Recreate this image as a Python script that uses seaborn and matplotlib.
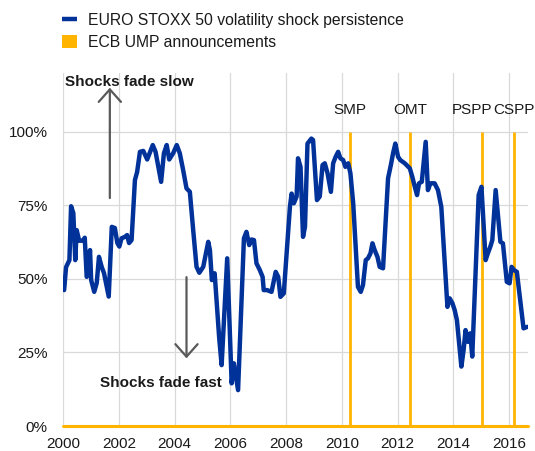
import pandas as pd
import matplotlib
matplotlib.use("Agg")
import matplotlib.pyplot as plt
import seaborn as sns
from matplotlib.lines import Line2D
from matplotlib.patches import Patch

# Shock persistence (decimal year, share)
dates = [
    2000.04, 2000.11, 2000.23, 2000.29, 2000.37, 2000.44, 2000.49, 2000.58, 2000.71, 2000.78,
    2000.85, 2000.97, 2001.01, 2001.12, 2001.21, 2001.29, 2001.39, 2001.47, 2001.64, 2001.75,
    2001.86, 2001.95, 2002.02, 2002.10, 2002.22, 2002.30, 2002.37, 2002.46, 2002.58, 2002.66,
    2002.76, 2002.88, 2003.02, 2003.22, 2003.32, 2003.52, 2003.62, 2003.72, 2003.81, 2003.95,
    2004.08, 2004.19, 2004.31, 2004.43, 2004.55, 2004.67, 2004.79, 2004.89, 2005.03, 2005.21,
    2005.27, 2005.34, 2005.44, 2005.60, 2005.69, 2005.89, 2006.05, 2006.13, 2006.28, 2006.49,
    2006.58, 2006.68, 2006.76, 2006.85, 2006.94, 2007.06, 2007.16, 2007.20, 2007.32, 2007.48,
    2007.63, 2007.72, 2007.80, 2007.92, 2008.14, 2008.20, 2008.28, 2008.38, 2008.43, 2008.52,
    2008.61, 2008.68, 2008.77, 2008.91, 2008.97, 2009.11, 2009.21, 2009.31, 2009.39, 2009.49,
    2009.61, 2009.69, 2009.78, 2009.87, 2009.95, 2010.05, 2010.13, 2010.23, 2010.31, 2010.41,
    2010.58, 2010.68, 2010.76, 2010.86, 2010.94, 2011.03, 2011.10, 2011.18, 2011.28, 2011.36,
    2011.48, 2011.66, 2011.76, 2011.84, 2011.92, 2012.02, 2012.10, 2012.26, 2012.44, 2012.53,
    2012.62, 2012.70, 2012.77, 2012.87, 2013.01, 2013.09, 2013.18, 2013.33, 2013.45, 2013.57,
    2013.79, 2013.87, 2013.97, 2014.05, 2014.13, 2014.29, 2014.37, 2014.44, 2014.53, 2014.61,
    2014.68, 2014.91, 2015.01, 2015.16, 2015.24, 2015.33, 2015.40, 2015.52, 2015.69, 2015.78,
    2015.92, 2016.02, 2016.09, 2016.18, 2016.28, 2016.52, 2016.65,
]
persistence = [
    46.2, 54.0, 56.4, 74.7, 72.4, 56.4, 66.6, 63.0, 63.0, 64.0,
    50.7, 59.8, 49.6, 45.6, 48.6, 57.5, 54.0, 52.0, 44.0, 67.7,
    67.3, 62.2, 61.0, 63.8, 64.3, 64.9, 62.2, 63.2, 83.6, 86.4,
    93.2, 93.5, 90.6, 95.5, 93.2, 83.0, 92.7, 95.5, 90.6, 92.7,
    95.5, 92.7, 87.0, 80.8, 79.6, 66.6, 54.1, 52.1, 54.1, 62.6,
    59.8, 49.6, 51.9, 30.3, 20.7, 57.0, 14.5, 21.3, 12.2, 63.8,
    66.0, 61.5, 63.4, 63.2, 55.3, 53.0, 50.7, 46.2, 46.2, 45.6,
    52.4, 50.7, 43.9, 45.1, 74.5, 79.0, 75.7, 78.0, 91.0, 88.1,
    64.3, 67.7, 96.0, 97.7, 97.2, 76.8, 78.0, 88.7, 89.3, 85.9,
    79.6, 89.3, 91.5, 93.2, 91.0, 90.4, 88.1, 89.3, 85.9, 75.7,
    47.3, 45.6, 47.9, 56.4, 57.0, 58.7, 62.1, 59.8, 57.5, 54.1,
    53.6, 84.2, 88.7, 92.7, 96.0, 91.5, 90.4, 89.3, 87.6, 84.7,
    81.3, 78.5, 82.5, 83.0, 96.6, 80.2, 82.5, 82.5, 80.2, 74.5,
    40.5, 43.4, 41.7, 39.4, 36.0, 20.2, 25.8, 32.6, 28.6, 31.5,
    23.6, 78.5, 81.3, 56.4, 58.7, 61.0, 63.2, 80.2, 62.6, 62.1,
    49.0, 48.5, 54.1, 53.0, 52.4, 33.2, 33.7,
]

# ECB unconventional monetary policy announcements
ump_names = ["SMP", "OMT", "PSPP", "CSPP"]
ump_dates = [2010.29, 2012.44, 2015.02, 2016.19]

year_ticks = [2000, 2002, 2004, 2006, 2008, 2010, 2012, 2014, 2016]
pct_ticks = [0, 25, 50, 75, 100]

blue = "#003299"
yellow = "#FFB400"
grey = "#595959"

sns.set_style("whitegrid")
plt.rcParams["font.family"] = ["Liberation Sans", "DejaVu Sans"]
plt.rcParams["text.color"] = "#1a1a1a"

df = pd.DataFrame({"date": dates, "share": [v / 100 for v in persistence]})

fig = plt.figure(figsize=(5.35, 4.51), dpi=100)
ax = fig.add_axes([63 / 535, 1 - 426 / 451, 465 / 535, 353 / 451])

# announcement markers and baseline
ax.vlines(ump_dates, 0, 1.0, color=yellow, lw=2, zorder=2)
ax.axhline(0, color=yellow, lw=2.2, zorder=2, clip_on=False)

sns.lineplot(data=df, x="date", y="share", ax=ax, color=blue, lw=3.2, zorder=3)

ax.set_xlim(2000, 2016.68)
ax.set_ylim(0, 1.2)
ax.set_xticks(year_ticks)
ax.set_xticklabels([str(y) for y in year_ticks])
ax.set_yticks([p / 100 for p in pct_ticks])
ax.set_yticklabels([f"{p}%" for p in pct_ticks])
ax.tick_params(axis="both", length=0, labelsize=11, colors="#1a1a1a")
ax.tick_params(axis="y", pad=11)
ax.tick_params(axis="x", pad=8)
ax.grid(True, color="#d9d9d9", lw=0.9)
ax.set_xlabel("")
ax.set_ylabel("")
for s in ax.spines.values():
    s.set_visible(False)

# event labels
offsets = [0, 0, -7, 0]
for name, d, off in zip(ump_names, ump_dates, offsets):
    ax.annotate(name, xy=(d, 1.074), xytext=(off, 0), textcoords="offset points",
                ha="center", va="center", fontsize=11, annotation_clip=False)

# direction hints
ax.text(2000.07, 1.17, "Shocks fade slow", fontsize=11, fontweight="bold",
        ha="left", va="center")
ax.text(2001.33, 0.146, "Shocks fade fast", fontsize=11, fontweight="bold",
        ha="left", va="center")
arrow = dict(arrowstyle="->,head_length=0.45,head_width=0.4", color=grey, lw=1.6,
             mutation_scale=20, shrinkA=0, shrinkB=0)
ax.annotate("", xy=(2001.68, 1.15), xytext=(2001.68, 0.775), arrowprops=arrow)
ax.annotate("", xy=(2004.43, 0.23), xytext=(2004.43, 0.506), arrowprops=arrow)

handles = [
    Line2D([0], [0], color=blue, lw=3.2, solid_capstyle="butt"),
    Patch(facecolor=yellow, edgecolor="none"),
]
labels = ["EURO STOXX 50 volatility shock persistence", "ECB UMP announcements"]
fig.legend(handles, labels, loc="upper left", bbox_to_anchor=(62 / 535, 1 - 13 / 451),
           frameon=False, fontsize=11.3, borderpad=0, borderaxespad=0, handlelength=0.95,
           handleheight=0.9, handletextpad=0.7, labelspacing=0.45)

fig.savefig("out.png", dpi=100)
